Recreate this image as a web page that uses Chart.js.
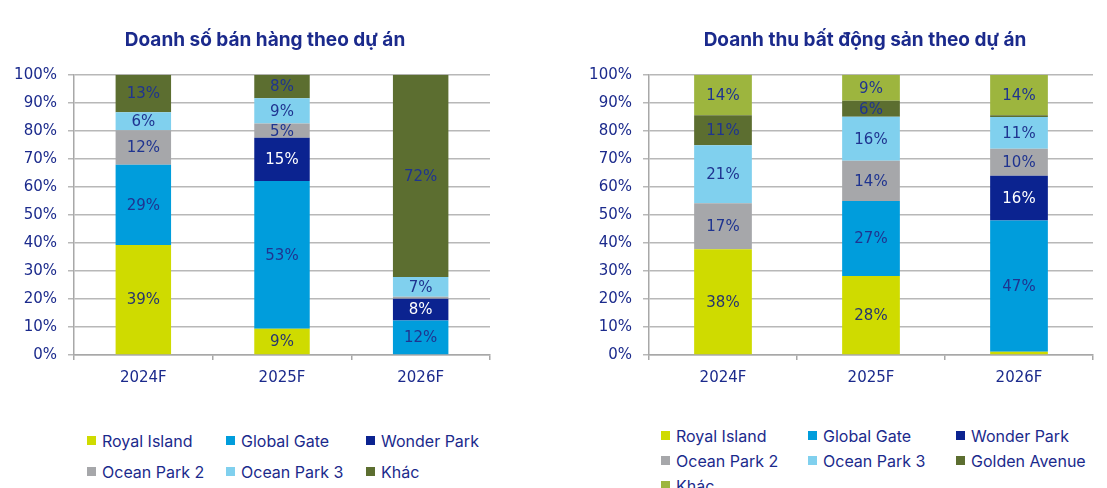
<!DOCTYPE html>
<html>
<head>
<meta charset="utf-8">
<script src="https://cdn.jsdelivr.net/npm/chart.js@4.4.1/dist/chart.umd.min.js"></script>
<style>
  html, body { margin: 0; padding: 0; background: #fff; overflow: hidden; width: 1107px; height: 488px; }
  canvas { position: absolute; top: 0; }
  .legend { position: absolute; display: grid; font-family: Inter, "Noto Sans", sans-serif; font-size: 16px; color: #1b2a8c; }
  .legend div { display: flex; align-items: center; white-space: nowrap; }
  .legend span { display: inline-block; width: 9px; height: 9px; margin-right: 6px; }
</style>
</head>
<body>
<canvas id="sales-chart" width="530" height="395" style="left:0px"></canvas>
<canvas id="revenue-chart" width="580" height="395" style="left:575px"></canvas>
<div class="legend" id="sales-legend" style="left:87px; top:425px; grid-template-columns:139px 140px 140px; grid-auto-rows:31px;"></div>
<div class="legend" id="revenue-legend" style="left:661px; top:423px; grid-template-columns:147px 148px 160px; grid-auto-rows:25px;"></div>
<script>
// Data
var years = ['2024F', '2025F', '2026F'];

// Doanh số bán hàng theo dự án (%)
var salesRoyal  = [39.3, 9.4, 0];
var salesGlobal = [28.6, 52.7, 12.3];
var salesWonder = [0, 15.4, 7.8];
var salesOcean2 = [12.3, 5.1, 0.7];
var salesOcean3 = [6.4, 9.0, 7.0];
var salesOther  = [13.4, 8.4, 72.2];

// Doanh thu bất động sản theo dự án (%)
var revRoyal  = [37.7, 28.2, 1.2];
var revGlobal = [0, 26.8, 46.8];
var revWonder = [0, 0, 16.0];
var revOcean2 = [16.5, 14.3, 9.6];
var revOcean3 = [20.7, 15.7, 11.3];
var revGolden = [10.7, 5.7, 0.7];
var revOther  = [14.4, 9.3, 14.4];

var navy = '#1b2a8c';
var tickFont = { family: 'DejaVu Sans', size: 15 };

function ds(label, data, color, textColor) {
    return { label: label, data: data, backgroundColor: color, borderWidth: 0, textColor: textColor || '#1f3490' };
}

// draw the % inside each bar segment
var barLabels = {
    id: 'barLabels',
    afterDatasetsDraw: function(chart) {
        var ctx = chart.ctx;
        ctx.save();
        ctx.font = '15px "DejaVu Sans"';
        ctx.textAlign = 'center';
        ctx.textBaseline = 'middle';
        chart.data.datasets.forEach(function(d, i) {
            chart.getDatasetMeta(i).data.forEach(function(bar, j) {
                var v = d.data[j];
                if (v < 3) return;
                var p = bar.getProps(['x', 'y', 'base'], true);
                ctx.fillStyle = d.textColor;
                ctx.fillText(Math.round(v) + '%', p.x, (p.y + p.base) / 2 + 1);
            });
        });
        ctx.restore();
    }
};

// html legend in a grid
function htmlLegend(id) {
    return {
        id: 'htmlLegend',
        afterUpdate: function(chart) {
            var box = document.getElementById(id);
            box.innerHTML = '';
            chart.options.plugins.legend.labels.generateLabels(chart).forEach(function(item) {
                var row = document.createElement('div');
                var sq = document.createElement('span');
                sq.style.background = item.fillStyle;
                row.appendChild(sq);
                row.appendChild(document.createTextNode(item.text));
                box.appendChild(row);
            });
        }
    };
}

function makeOptions(title, rightGap, barPct) {
    return {
        responsive: false,
        devicePixelRatio: 1,
        animation: false,
        datasets: { bar: { barPercentage: barPct, categoryPercentage: 1 } },
        layout: { padding: 0 },
        plugins: {
            legend: { display: false },
            tooltip: { enabled: false },
            title: {
                display: true,
                text: title,
                color: navy,
                font: { family: 'Inter', size: 19, weight: 'bold' },
                padding: { top: 29, bottom: 23 }
            }
        },
        scales: {
            x: {
                stacked: true,
                afterFit: function(s) { s.height = 40; },
                grid: { offset: true, drawOnChartArea: false, tickLength: 5, color: '#a8a8a8', lineWidth: 1.5 },
                border: { color: '#a8a8a8', width: 1.5 },
                ticks: { color: navy, font: tickFont, padding: 9 }
            },
            y: {
                stacked: true,
                min: 0,
                max: 100,
                afterFit: function(s) { s.width = 74; },
                grid: { color: '#b8b8b8', lineWidth: 1.5, tickLength: 6 },
                border: { color: '#a8a8a8', width: 1.5 },
                ticks: { stepSize: 10, color: navy, font: tickFont, padding: 11,
                         callback: function(v) { return v + '%'; } }
            },
            // empty axis on the right, only keeps the gap so the title stays centred
            gap: {
                type: 'linear',
                position: 'right',
                display: true,
                afterFit: function(s) { s.width = rightGap; },
                grid: { display: false },
                border: { display: false },
                ticks: { display: false }
            }
        }
    };
}

var ctx = document.getElementById('sales-chart');
var salesChart = new Chart(ctx, {
    type: 'bar',
    data: {
        labels: years,
        datasets: [
            ds('Royal Island', salesRoyal, '#cfdb00', '#27356f'),
            ds('Global Gate', salesGlobal, '#009ddc'),
            ds('Wonder Park', salesWonder, '#0b2390', '#ffffff'),
            ds('Ocean Park 2', salesOcean2, '#a6a7aa'),
            ds('Ocean Park 3', salesOcean3, '#80d0ee'),
            ds('Khác', salesOther, '#5c6e30')
        ]
    },
    options: makeOptions('Doanh số bán hàng theo dự án', 40, 0.4),
    plugins: [barLabels, htmlLegend('sales-legend')]
});

var ctx2 = document.getElementById('revenue-chart');
var revenueChart = new Chart(ctx2, {
    type: 'bar',
    data: {
        labels: years,
        datasets: [
            ds('Royal Island', revRoyal, '#cfdb00', '#27356f'),
            ds('Global Gate', revGlobal, '#009ddc'),
            ds('Wonder Park', revWonder, '#0b2390', '#ffffff'),
            ds('Ocean Park 2', revOcean2, '#a6a7aa'),
            ds('Ocean Park 3', revOcean3, '#80d0ee'),
            ds('Golden Avenue', revGolden, '#5c6e30'),
            ds('Khác', revOther, '#9db53e')
        ]
    },
    options: makeOptions('Doanh thu bất động sản theo dự án', 62, 0.39),
    plugins: [barLabels, htmlLegend('revenue-legend')]
});
</script>
</body>
</html>
